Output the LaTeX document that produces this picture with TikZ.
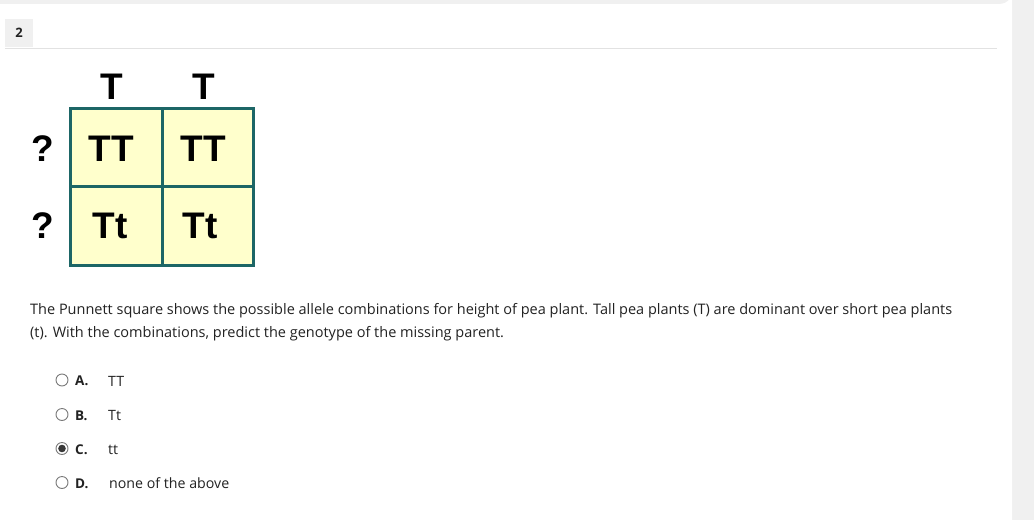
\documentclass[tikz,border=0pt]{standalone}
\usepackage{fontspec}
\setmainfont{Open Sans}
\newfontfamily\arialf{Liberation Sans}
\definecolor{pageg}{HTML}{F0F0F0}
\definecolor{lineg}{HTML}{E2E2E2}
\definecolor{teal}{HTML}{1D6666}
\definecolor{cellfill}{HTML}{FFFFCC}
\definecolor{txt}{HTML}{222222}
\definecolor{radiog}{HTML}{7A7A7A}
\tikzset{
  gridline/.style={draw=teal, line width=3pt},
  big/.style={font=\arialf\bfseries\fontsize{37}{37}\selectfont, text=black, inner sep=0pt, anchor=base},
  para/.style={font=\fontsize{14.5}{16}\selectfont, text=txt, inner sep=0pt, anchor=base west},
  optlab/.style={font=\bfseries\fontsize{13.5}{16}\selectfont, text=txt, inner sep=0pt, anchor=base west},
  opttxt/.style={font=\fontsize{14.2}{16}\selectfont, text=txt, inner sep=0pt, anchor=base west},
  radio/.style={circle, draw=radiog, fill=white, line width=0.9pt, minimum size=12pt, inner sep=0pt},
}
\begin{document}
\begin{tikzpicture}[x=1pt,y=-1pt]
\useasboundingbox (0,0) rectangle (1034,520);
\fill[pageg] (0,0) rectangle (1034,520);
\fill[white] (0,520) -- (0,4) -- (1000,4) arc[start angle=90,end angle=0,radius=12] -- (1012,520) -- cycle;
% question number
\fill[pageg] (5,19) rectangle (33,47);
\node[font=\bfseries\fontsize{13}{16}\selectfont, text=txt, inner sep=0pt] (qnum) at (19,33) {2};
\draw[lineg, line width=1pt] (5,48.5) -- (997,48.5);
% Punnett square
\fill[cellfill] (70,108) rectangle (253,265);
\draw[gridline] (70,108) rectangle (253,265);
\draw[gridline] (162,108) -- (162,265);
\draw[gridline] (70,186) -- (253,186);
\node[big] (c1) at (112,99.5) {T};
\node[big] (c2) at (204,99.5) {T};
\node[big] (r1) at (43,161.5) {?};
\node[big] (r2) at (43,238) {?};
\node[big] (tt1) at (111,161.5) {TT};
\node[big] (tt2) at (203,161.5) {TT};
\node[big] (tt3) at (110,238) {Tt};
\node[big] (tt4) at (200,238) {Tt};
% paragraph
\node[para] (p1) at (30,314) {The Punnett square shows the possible allele combinations for height of pea plant. Tall pea plants (T) are dominant over short pea plants};
\node[para] (p2) at (30,337) {(t). With the combinations, predict the genotype of the missing parent.};
% options
\node[radio] (ra) at (62,380) {};
\node[radio] (rb) at (62,414.5) {};
\node[radio] (rc) at (62,448.5) {};
\node[radio] (rd) at (62,482.5) {};
\fill[txt!90] (rc.center) circle (3.8pt);
\node[optlab] (la) at (75,385.5) {A.};
\node[optlab] (lb) at (75,420) {B.};
\node[optlab] (lc) at (75,454) {C.};
\node[optlab] (ld) at (75,488) {D.};
\node[opttxt] (ta) at (108,386) {TT};
\node[opttxt] (tb) at (108,420) {Tt};
\node[opttxt] (tc) at (108,454) {tt};
\node[opttxt] (td) at (109,488) {none of the above};
\end{tikzpicture}
\end{document}
